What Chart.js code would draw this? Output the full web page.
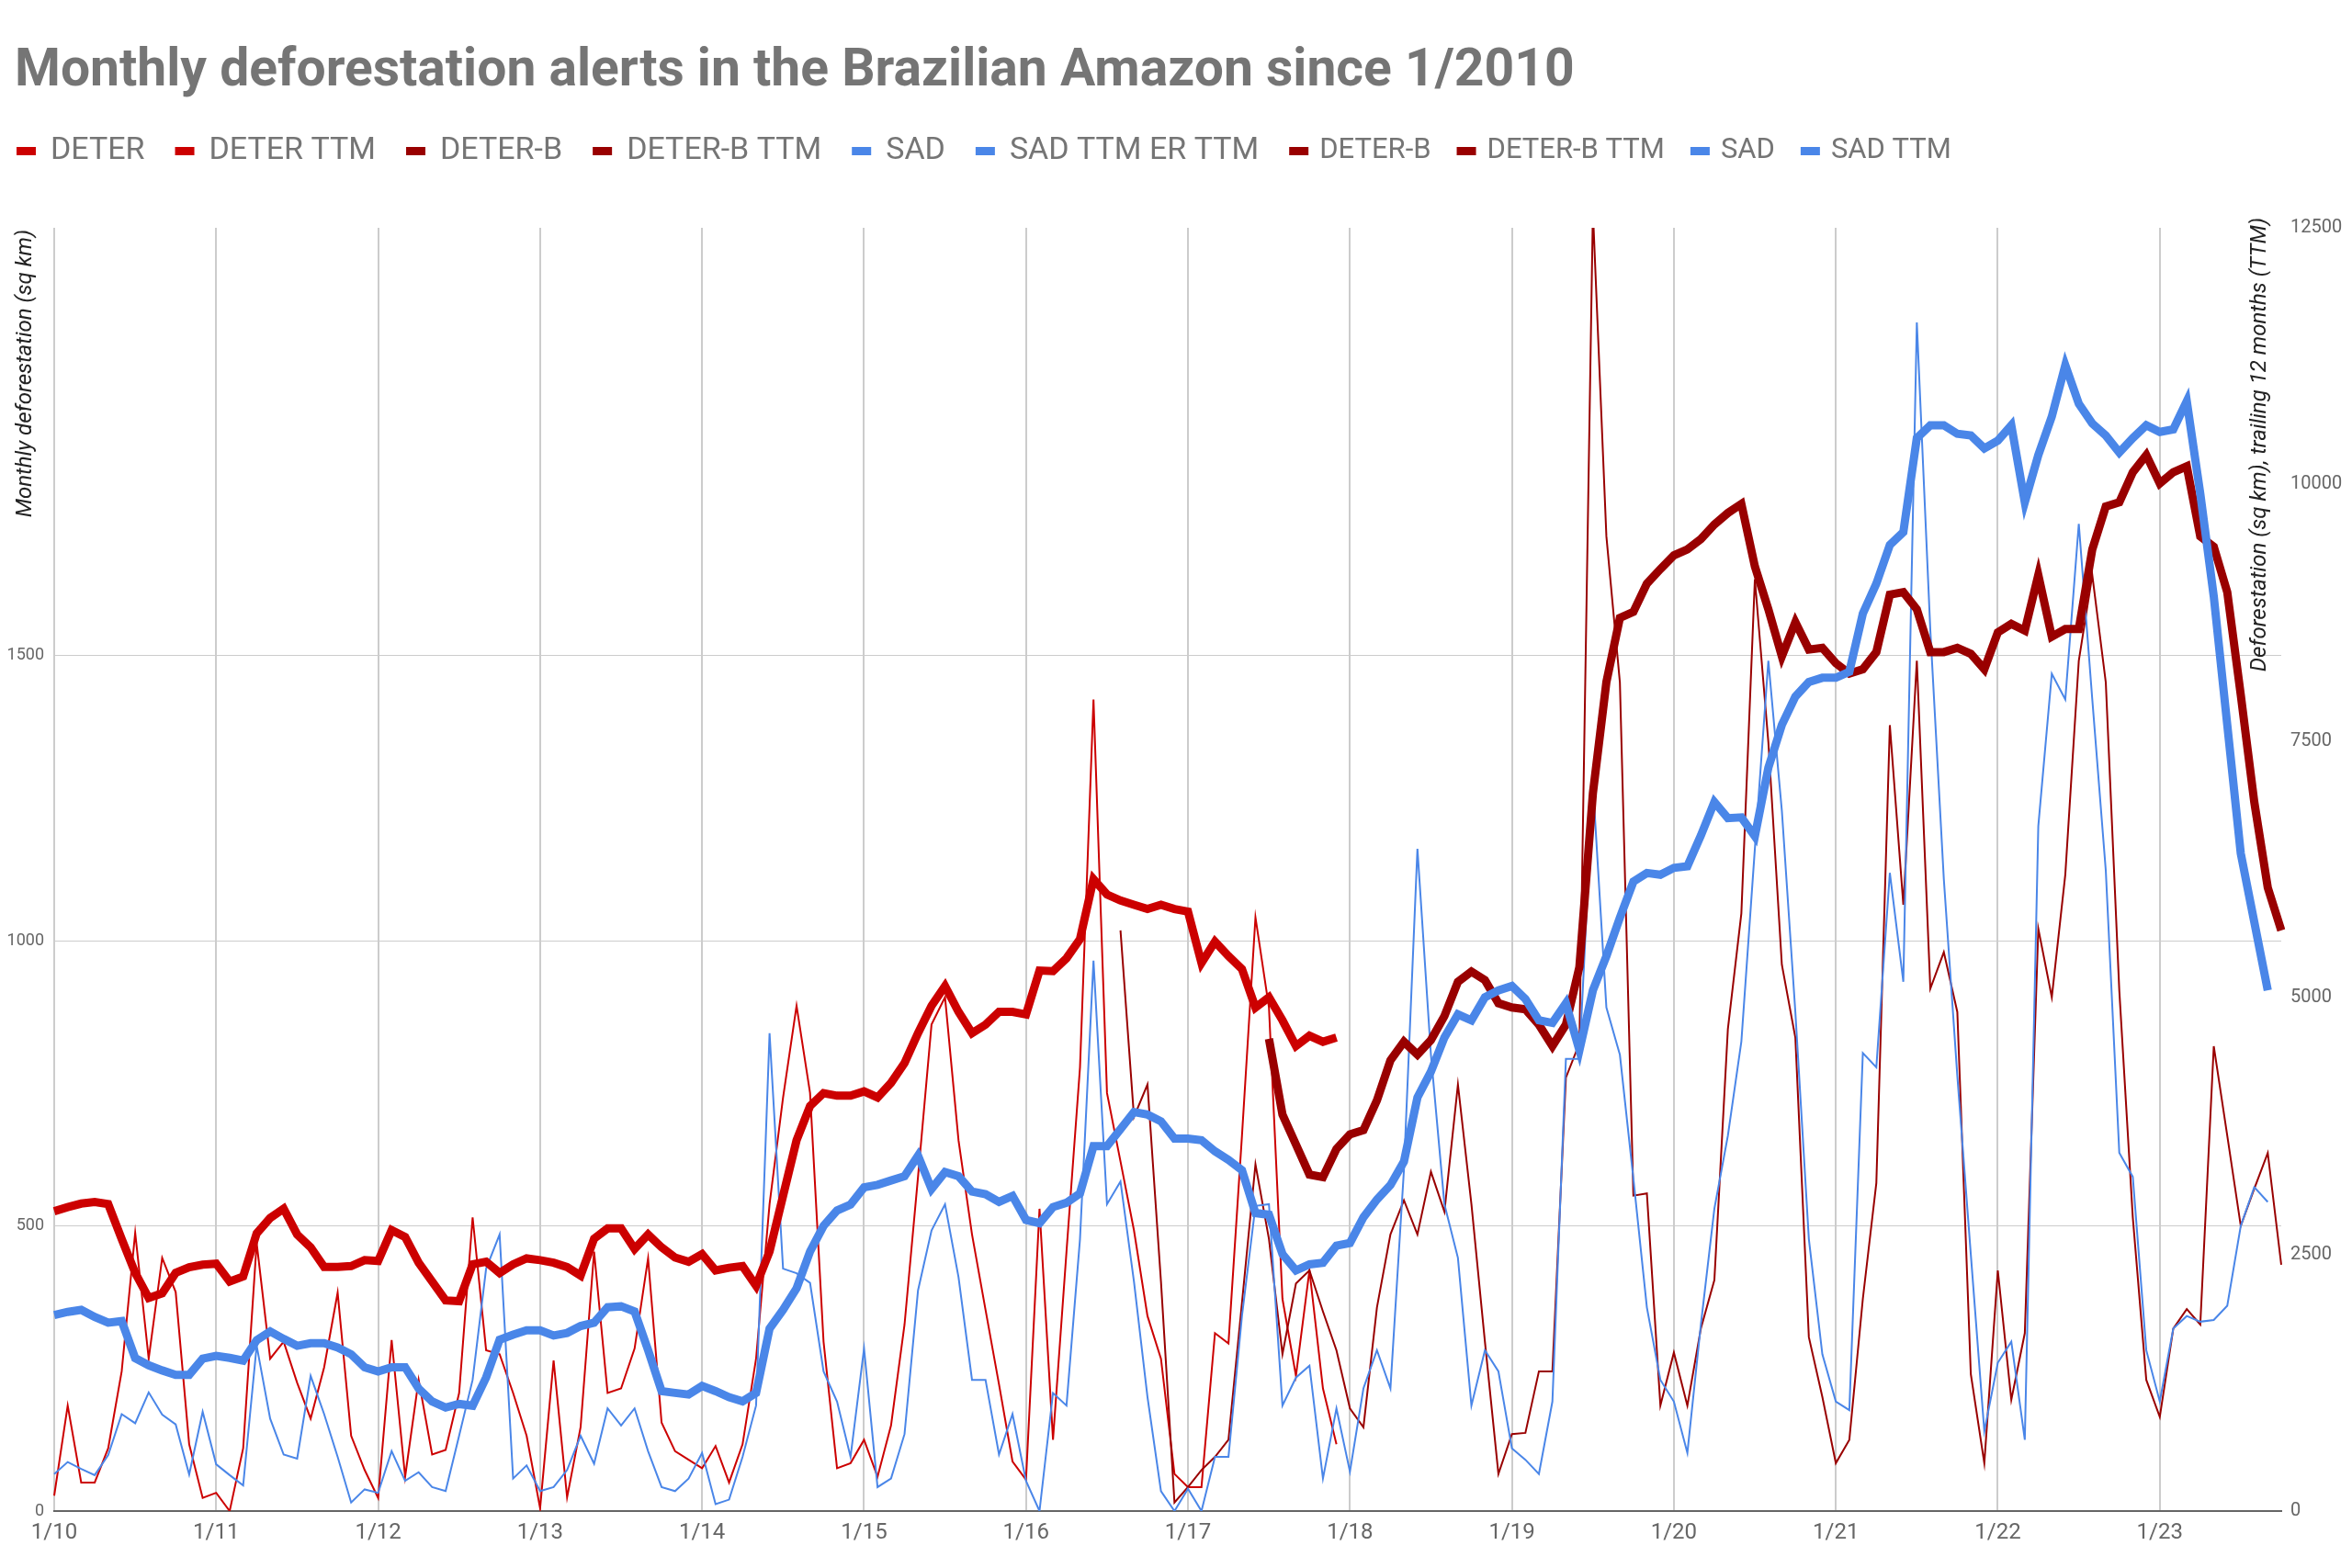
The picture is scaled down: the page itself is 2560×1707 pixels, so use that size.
<!DOCTYPE html>
<html>
<head>
<meta charset="utf-8">
<title>Monthly deforestation alerts in the Brazilian Amazon</title>
<script src="https://cdn.jsdelivr.net/npm/chart.js@4.4.0/dist/chart.umd.min.js"></script>
<style>
  html, body { margin: 0; padding: 0; background: #fff; }
  #wrap { width: 2560px; height: 1707px; position: relative; }
</style>
</head>
<body>
<div id="wrap"><canvas id="chart"></canvas></div>
<script>
// Monthly categories from 1/10 onwards (label = month/yy)
const startYear = 2010;
const monthCount = 166;
const months = [];
for (let i = 0; i < monthCount; i++) {
    months.push((i % 12 + 1) + '/' + String((startYear + Math.floor(i / 12)) % 100).padStart(2, '0'));
}

// Axis ticks
const leftTicks = [0, 500, 1000, 1500];
const rightTicks = [0, 2500, 5000, 7500, 10000, 12500];

// DETER monthly (sq km), 1/10 - 12/17
const deterStart = 0;
const deter = [
    27, 185, 50, 50, 110, 245, 488, 267, 444, 384, 117, 23,
    32, 0, 110, 470, 267, 297, 225, 162, 252, 383, 132, 72,
    23, 300, 60, 230, 99, 107, 207, 515, 282, 275, 207, 132,
    5, 264, 24, 147, 455, 207, 215, 285, 443, 155, 105, 90,
    75, 114, 50, 117, 267, 538, 725, 886, 733, 297, 75, 84,
    125, 60, 150, 327, 586, 853, 901, 650, 485, 353, 222, 87,
    55, 530, 125, 455, 778, 1423, 733, 613, 492, 342, 267, 65,
    42, 42, 312, 294, 658, 1041, 883, 372, 237, 422, 215, 117
];

// DETER trailing 12 months
const deterTtm = [
    2920, 2960, 2995, 3010, 2990, 2650, 2320, 2075, 2120, 2320, 2375, 2400,
    2410, 2236, 2285, 2705, 2855, 2945, 2694, 2569, 2377, 2377, 2386, 2444,
    2436, 2736, 2669, 2419, 2236, 2052, 2044, 2403, 2428, 2319, 2403, 2461,
    2444, 2419, 2377, 2294, 2653, 2753, 2753, 2553, 2694, 2569, 2469, 2428,
    2503, 2344, 2370, 2386, 2194, 2528, 3070, 3612, 3946, 4071, 4046, 4046,
    4088, 4029, 4171, 4363, 4655, 4922, 5114, 4863, 4655, 4738, 4863, 4863,
    4838, 5265, 5260, 5385, 5572, 6156, 6006, 5948, 5906, 5864, 5906, 5864,
    5839, 5339, 5547, 5406, 5280, 4905, 5005, 4780, 4530, 4630, 4571, 4613
];

// DETER-B monthly, from 8/16
const deterBStart = 79;
const deterB = [
    1018, 691, 748, 402, 15,
    42, 72, 95, 125, 365, 608, 477, 275, 399, 422, 350, 282,
    180, 147, 357, 485, 545, 485, 595, 525, 748, 538, 297, 65,
    135, 137, 245, 245, 760, 820, 2280, 1709, 1453, 553, 557, 185,
    278, 185, 320, 405, 845, 1048, 1634, 1348, 958, 830, 305, 200,
    84, 125, 372, 575, 1378, 1063, 1491, 916, 980, 875, 240, 84,
    422, 195, 312, 1021, 901, 1116, 1491, 1641, 1453, 913, 515, 230,
    165, 320, 354, 327, 815, 658, 500, 565, 628, 432
];

// DETER-B trailing 12 months, from 7/17
const deterBTtmStart = 90;
const deterBTtm = [
    4600, 3862, 3570, 3278, 3253, 3528,
    3670, 3710, 4000, 4390, 4571, 4446, 4588, 4822, 5155, 5255, 5172, 4947,
    4905, 4888, 4738, 4530, 4738, 5300, 6991, 8075, 8701, 8759, 9034, 9176,
    9310, 9368, 9468, 9610, 9722, 9810, 9201, 8784, 8325, 8659, 8392, 8409,
    8259, 8158, 8200, 8367, 8926, 8951, 8784, 8367, 8367, 8409, 8350, 8200,
    8559, 8642, 8576, 9118, 8517, 8592, 8592, 9368, 9785, 9827, 10119, 10286,
    10010, 10119, 10177, 9493, 9393, 8951, 7950, 6907, 6073, 5656
];

// SAD monthly, 1/10 - 9/23
const sadStart = 0;
const sad = [
    65, 86, 74, 63, 98, 170, 154, 208, 169, 152, 64, 174,
    82, 63, 45, 290, 162, 99, 92, 237, 170, 95, 15, 38,
    32, 105, 53, 68, 42, 35, 132, 230, 425, 485, 57, 80,
    35, 42, 72, 132, 83, 180, 150, 180, 105, 42, 35, 57,
    102, 12, 20, 95, 185, 838, 425, 417, 400, 245, 192, 95,
    285, 42, 57, 135, 387, 492, 538, 410, 230, 230, 99, 170,
    53, 0, 207, 185, 477, 965, 538, 578, 402, 200, 35, 0,
    39, 0, 95, 95, 342, 535, 538, 185, 234, 255, 57, 180,
    69, 215, 282, 215, 598, 1161, 800, 538, 444, 185, 282, 245,
    110, 90, 65, 192, 793, 793, 1276, 883, 800, 583, 357, 230,
    192, 102, 327, 530, 658, 823, 1161, 1491, 1228, 875, 477, 275,
    192, 177, 803, 778, 1119, 928, 2084, 1544, 1108, 763, 450, 140,
    260, 297, 125, 1201, 1468, 1423, 1731, 1423, 1123, 628, 586, 282,
    192, 320, 342, 332, 335, 360, 500, 568, 542
];

// SAD trailing 12 months
const sadTtm = [
    1910, 1940, 1960, 1890, 1835, 1850, 1490, 1420, 1370, 1327, 1327, 1485,
    1512, 1492, 1465, 1665, 1750, 1677, 1610, 1635, 1635, 1593, 1527, 1401,
    1360, 1401, 1401, 1193, 1068, 1009, 1043, 1026, 1301, 1668, 1718, 1760,
    1760, 1710, 1735, 1802, 1835, 1985, 1994, 1944, 1568, 1168, 1151, 1135,
    1218, 1168, 1109, 1068, 1151, 1777, 1960, 2169, 2528, 2778, 2928, 2986,
    3153, 3178, 3220, 3262, 3462, 3137, 3303, 3262, 3112, 3087, 3012, 3070,
    2836, 2803, 2961, 3003, 3095, 3554, 3554, 3720, 3887, 3862, 3796, 3629,
    3629, 3612, 3504, 3420, 3320, 2903, 2886, 2503, 2344, 2403, 2419, 2586,
    2611, 2861, 3035, 3175, 3404, 4029, 4280, 4613, 4838, 4780, 5005, 5072,
    5114, 4988, 4780, 4755, 4947, 4488, 5072, 5406, 5781, 6131, 6215, 6198,
    6265, 6281, 6580, 6907, 6750, 6757, 6573, 7241, 7658, 7933, 8075, 8117,
    8117, 8175, 8742, 9034, 9410, 9535, 10452, 10577, 10577, 10494, 10477, 10352,
    10427, 10577, 9827, 10286, 10661, 11162, 10786, 10594, 10477, 10311, 10452, 10577,
    10511, 10536, 10811, 9910, 8909, 7658, 6406, 5739, 5072
];

// Legend as it appears on the original (duplicated entries included)
const legendNames = ['DETER', 'DETER TTM', 'DETER-B', 'DETER-B TTM', 'SAD', 'SAD TTM ER TTM',
    'DETER-B', 'DETER-B TTM', 'SAD', 'SAD TTM'];

const RED = '#cc0000';
const DARK_RED = '#990000';
const BLUE = '#4a86e8';
const legendColors = [RED, RED, DARK_RED, DARK_RED, BLUE, BLUE, DARK_RED, DARK_RED, BLUE, BLUE];

const chartTitle = 'Monthly deforestation alerts in the Brazilian Amazon since 1/2010';
const leftTitle = 'Monthly deforestation (sq km)';
const rightTitle = 'Deforestation (sq km), trailing 12 months (TTM)';

// Place a series that starts at a given month onto the full month list
function fillMonths(start, values) {
    const out = new Array(months.length).fill(null);
    values.forEach((v, i) => { out[start + i] = v; });
    return out;
}

function lineSet(label, values, start, color, thick, axis) {
    return {
        label: label,
        data: fillMonths(start, values),
        borderColor: color,
        backgroundColor: color,
        borderWidth: thick ? 9 : 2,
        pointRadius: 0,
        pointHoverRadius: 0,
        tension: 0,
        fill: false,
        spanGaps: false,
        yAxisID: axis
    };
}

// Title + legend row, drawn the way the sheet shows them
const sheetHeader = {
    id: 'sheetHeader',
    afterDraw(chart) {
        const ctx = chart.ctx;
        ctx.save();

        ctx.font = 'bold 57px Roboto';
        ctx.fillStyle = '#757575';
        ctx.textAlign = 'left';
        ctx.textBaseline = 'alphabetic';
        ctx.fillText(chartTitle, 16, 93);

        let x = 18;
        const y = 164;
        ctx.textBaseline = 'middle';
        legendNames.forEach((name, i) => {
            const small = i >= 6;
            const size = small ? 31 : 34;
            ctx.fillStyle = legendColors[i];
            ctx.fillRect(x, y - 4, 21, 9);
            x += 21 + (small ? 12 : 16);
            ctx.font = size + 'px Roboto';
            ctx.fillStyle = '#757575';
            ctx.fillText(name, x, y);
            x += ctx.measureText(name).width + (small ? 28 : 33);
        });
        ctx.restore();
    }
};

// Axis titles, both reading bottom-to-top and anchored at the top of the plot
const axisTitles = {
    id: 'axisTitles',
    afterDraw(chart) {
        const ctx = chart.ctx;
        const area = chart.chartArea;
        ctx.save();
        ctx.font = 'italic 24px Roboto';
        ctx.fillStyle = '#222';
        ctx.textAlign = 'right';
        ctx.textBaseline = 'middle';

        ctx.save();
        ctx.translate(area.left - 31, area.top + 2);
        ctx.rotate(-Math.PI / 2);
        ctx.fillText(leftTitle, 0, 0);
        ctx.restore();

        ctx.save();
        ctx.translate(area.right - 23, area.top - 11);
        ctx.rotate(-Math.PI / 2);
        ctx.fillText(rightTitle, 0, 0);
        ctx.restore();

        ctx.restore();
    }
};

new Chart(document.getElementById('chart'), {
    type: 'line',
    data: {
        labels: months,
        datasets: [
            lineSet('SAD TTM', sadTtm, sadStart, BLUE, true, 'yTtm'),
            lineSet('DETER-B TTM', deterBTtm, deterBTtmStart, DARK_RED, true, 'yTtm'),
            lineSet('DETER TTM', deterTtm, deterStart, RED, true, 'yTtm'),
            lineSet('SAD', sad, sadStart, BLUE, false, 'y'),
            lineSet('DETER-B', deterB, deterBStart, DARK_RED, false, 'y'),
            lineSet('DETER', deter, deterStart, RED, false, 'y')
        ]
    },
    options: {
        responsive: true,
        maintainAspectRatio: false,
        devicePixelRatio: 1,
        animation: false,
        layout: {
            padding: { left: 0, right: 0, top: 248, bottom: 0 }
        },
        plugins: {
            legend: { display: false },
            tooltip: { enabled: false },
            title: { display: false }
        },
        scales: {
            x: {
                type: 'category',
                offset: false,
                grid: {
                    color: ctx => (ctx.index % 12 === 0 ? '#cccccc' : 'rgba(0,0,0,0)'),
                    lineWidth: 2,
                    drawTicks: false
                },
                border: { display: true, color: '#666666', width: 2 },
                ticks: {
                    autoSkip: false,
                    maxRotation: 0,
                    minRotation: 0,
                    padding: 10,
                    color: '#666666',
                    font: { family: 'Roboto', size: 24 },
                    callback: function(value, index) {
                        return index % 12 === 0 ? months[index] : '';
                    }
                },
                afterFit: scale => { scale.height = 62; }
            },
            y: {
                position: 'left',
                min: 0,
                max: 2250,
                afterBuildTicks: scale => { scale.ticks = leftTicks.map(v => ({ value: v })); },
                grid: { color: '#cccccc', lineWidth: 1, drawTicks: false },
                border: { display: false },
                ticks: {
                    padding: 11,
                    color: '#666666',
                    font: { family: 'Roboto', size: 18 },
                    callback: v => String(v)
                },
                afterFit: scale => { scale.width = 59; }
            },
            yTtm: {
                position: 'right',
                min: 0,
                max: 12500,
                afterBuildTicks: scale => { scale.ticks = rightTicks.map(v => ({ value: v })); },
                grid: { drawOnChartArea: false, drawTicks: false },
                border: { display: false },
                ticks: {
                    padding: 10,
                    color: '#666666',
                    font: { family: 'Roboto', size: 20 },
                    callback: v => String(v)
                },
                afterFit: scale => { scale.width = 77; }
            }
        }
    },
    plugins: [sheetHeader, axisTitles]
});
</script>
</body>
</html>
